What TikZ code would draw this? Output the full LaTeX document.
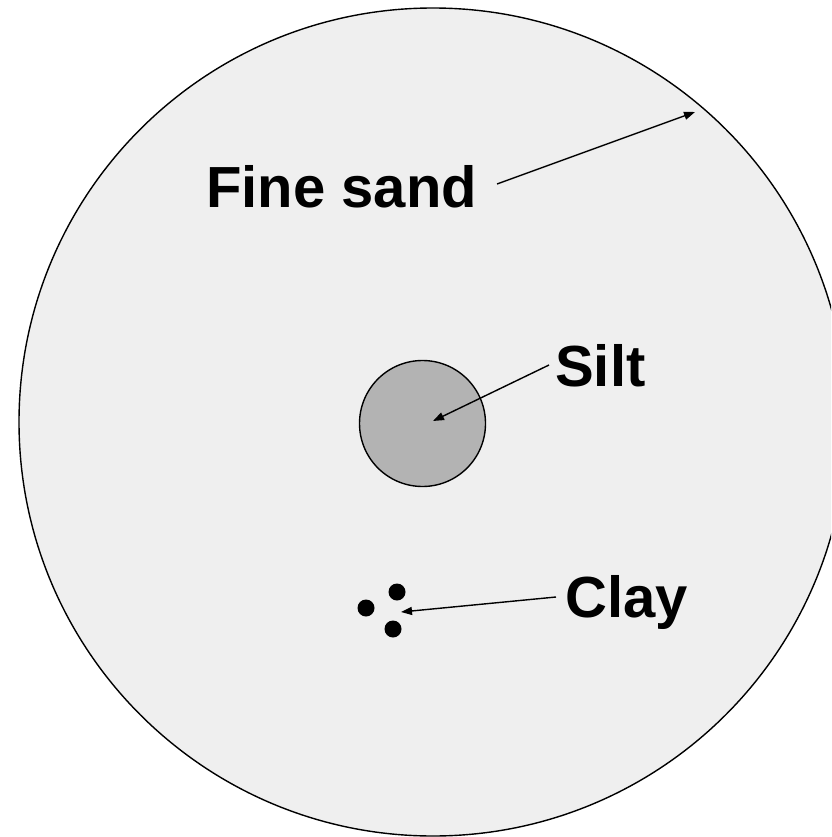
\documentclass[tikz,border=0pt]{standalone}
\usepackage{fontspec}
\setmainfont{Liberation Sans}
\usetikzlibrary{arrows.meta}
\definecolor{sandfill}{HTML}{EFEFEF}
\definecolor{siltfill}{HTML}{B3B3B3}
\tikzset{
  lbl/.style={anchor=base west, inner sep=0pt, font=\fontsize{58pt}{60pt}\selectfont\bfseries},
  ptr/.style={line width=1.4pt, -{Triangle[length=11pt,width=8pt]}},
  claydot/.style={circle, fill=black, inner sep=0pt, minimum size=17pt},
}
\begin{document}
\begin{tikzpicture}[x=1pt,y=-1pt]
\useasboundingbox (0,0) rectangle (831,837);
\fill[white] (0,0) rectangle (831,837);
\clip (0,0) rectangle (831,837);
% fine sand grain
\draw[fill=sandfill, line width=1.4pt] (433,422) circle[radius=414pt];
\coordinate (sandedge) at (695,112);
% silt grain
\node[circle, draw, fill=siltfill, line width=1.4pt, minimum size=126pt, inner sep=0pt] (silt) at (422.5,423.5) {};
\coordinate (silttip) at (433,421);
% clay particles
\node[claydot] (c1) at (366,608) {};
\node[claydot] (c2) at (397,592) {};
\node[claydot] (c3) at (393,629) {};
\coordinate (claytip) at (401,612);
% labels
\node[lbl] (fs) at (206,207) {Fine sand};
\node[lbl] (sl) at (555,386) {Silt};
\node[lbl] (cl) at (565,617) {Clay};
\coordinate (fsstart) at (497,184);
\coordinate (slstart) at (549,365);
\coordinate (clstart) at (556,597);
% pointers
\draw[ptr] (fsstart) -- (sandedge);
\draw[ptr] (slstart) -- (silttip);
\draw[ptr] (clstart) -- (claytip);
\end{tikzpicture}
\end{document}
